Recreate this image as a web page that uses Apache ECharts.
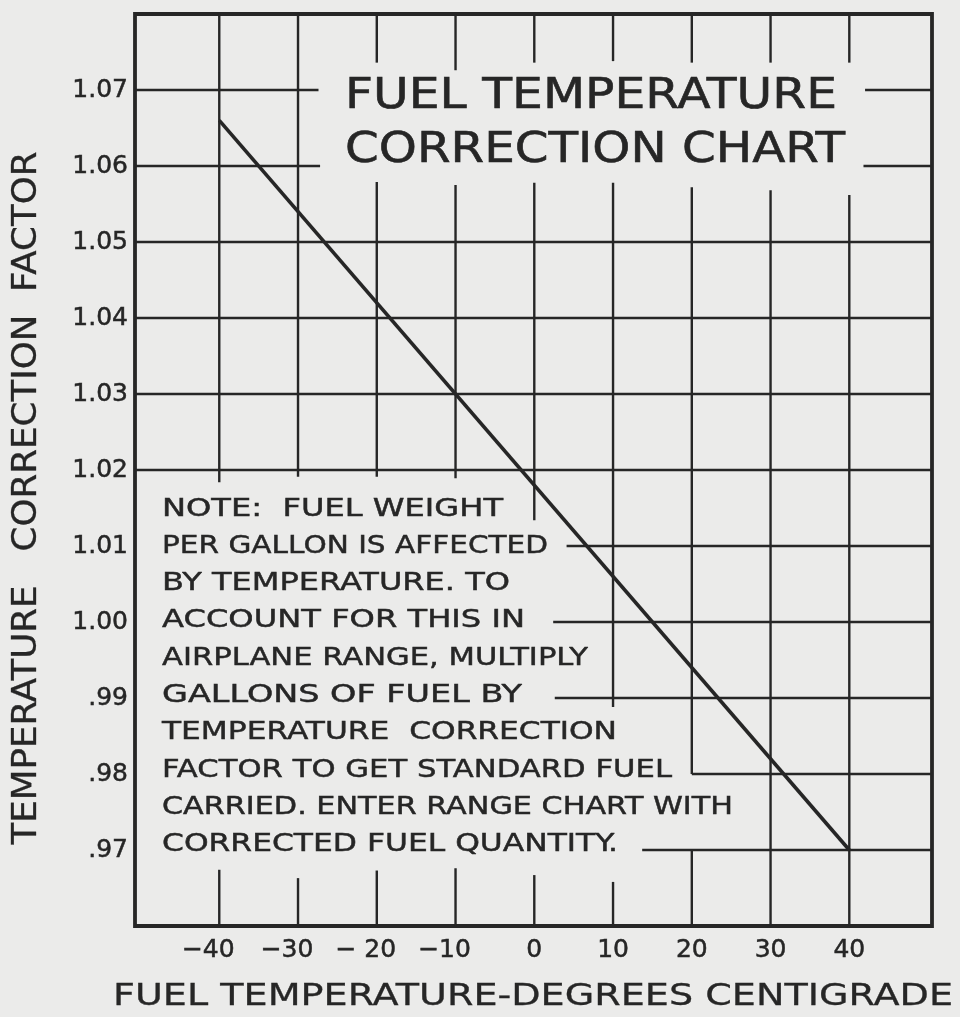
<!DOCTYPE html>
<html>
<head>
<meta charset="utf-8">
<title>Fuel Temperature Correction Chart</title>
<script src="https://cdn.jsdelivr.net/npm/echarts@6/dist/echarts.min.js"></script>
<style>
  html, body { margin: 0; padding: 0; background: #ebebea; }
  #chart { width: 960px; height: 1017px; }
</style>
</head>
<body>
<div id="chart"></div>
<script>
// ---- chart data -----------------------------------------------------------
// Fuel temperature (deg C) tick values and their printed labels
const xTicks = [-40, -30, -20, -10, 0, 10, 20, 30, 40];
const xTickLabels = ['\u221240', '\u221230', '\u2212 20', '\u221210', '0', '10', '20', '30', '40'];

// Correction factor tick values and their printed labels
const yTicks = [0.97, 0.98, 0.99, 1.00, 1.01, 1.02, 1.03, 1.04, 1.05, 1.06, 1.07];
const yTickLabels = ['.97', '.98', '.99', '1.00', '1.01', '1.02', '1.03', '1.04', '1.05', '1.06', '1.07'];

// Correction factor against fuel temperature (straight line)
const correctionTemps = [-40, 40];
const correctionFactors = [1.066, 0.970];

// Plot extent in data units
const X_MIN = -50.7, X_MAX = 50.5;
const Y_MIN = 0.96, Y_MAX = 1.08;

// Ruled grid: vertical rules [temperature, factorFrom, factorTo]
// (rules stop short where the title and the note are lettered)
const verticalRules = [
  [-40, Y_MAX, 1.0184], [-40, 0.9674, Y_MIN],
  [-30, Y_MAX, 1.0191], [-30, 0.9663, Y_MIN],
  [-20, Y_MAX, 1.0736], [-20, 1.0579, 1.0191], [-20, 0.9673, Y_MIN],
  [-10, Y_MAX, 1.0726], [-10, 1.0575, 1.0189], [-10, 0.9676, Y_MIN],
  [0, Y_MAX, 1.0736], [0, 1.0578, 1.0134], [0, 0.9667, Y_MIN],
  [10, Y_MAX, 1.0738], [10, 1.0578, 0.9888], [10, 0.9658, Y_MIN],
  [20, Y_MAX, 1.0736], [20, 1.0572, 0.9800], [20, 0.9700, Y_MIN],
  [30, Y_MAX, 1.0736], [30, 1.0568, Y_MIN],
  [40, Y_MAX, 1.0736], [40, 1.0562, Y_MIN]
];
// Horizontal rules [factor, temperatureFrom, temperatureTo]
const horizontalRules = [
  [1.07, X_MIN, -27.4], [1.07, 42.0, X_MAX],
  [1.06, X_MIN, -27.2], [1.06, 41.8, X_MAX],
  [1.05, X_MIN, X_MAX],
  [1.04, X_MIN, X_MAX],
  [1.03, X_MIN, X_MAX],
  [1.02, X_MIN, X_MAX],
  [1.01, 4.1, X_MAX],
  [1.00, 2.4, X_MAX],
  [0.99, 2.6, X_MAX],
  [0.98, 20.0, X_MAX],
  [0.97, 13.7, X_MAX]
];

// Lettering
const titleLines = ['FUEL TEMPERATURE', 'CORRECTION CHART'];
const noteLines = [
  'NOTE:  FUEL WEIGHT',
  'PER GALLON IS AFFECTED',
  'BY TEMPERATURE. TO',
  'ACCOUNT FOR THIS IN',
  'AIRPLANE RANGE, MULTIPLY',
  'GALLONS OF FUEL BY',
  'TEMPERATURE  CORRECTION',
  'FACTOR TO GET STANDARD FUEL',
  'CARRIED. ENTER RANGE CHART WITH',
  'CORRECTED FUEL QUANTITY.'
];
const xAxisTitle = 'FUEL TEMPERATURE-DEGREES CENTIGRADE';
const yAxisTitle = 'TEMPERATURE   CORRECTION  FACTOR';

// ---- drawing --------------------------------------------------------------
const INK = '#262626';
const FONT = '"DejaVu Sans", "Liberation Sans", sans-serif';

// Hand lettering is widely spaced; stretch each line to its lettered width.
const measureCtx = document.createElement('canvas').getContext('2d');
function stretchTo(text, size, width) {
  measureCtx.font = size + 'px ' + FONT;
  return width / measureCtx.measureText(text).width;
}

// Pen lettering is a little heavier than the regular face: add a thin outline.
function letteredText(text, size, x, y, width, weight, opts) {
  opts = opts || {};
  return {
    type: 'text',
    x: x,
    y: y,
    rotation: opts.rotation || 0,
    scaleX: stretchTo(text, size, width),
    silent: true,
    z: 10,
    style: {
      text: text,
      font: size + 'px ' + FONT,
      fill: INK,
      stroke: INK,
      lineWidth: weight,
      align: opts.align || 'left',
      verticalAlign: 'middle'
    }
  };
}

const titleWidths = [492, 500];
const titleCenters = [97, 151];
const noteWidths = [341, 386, 348, 363, 426, 360, 455, 510, 571, 456];

const graphics = [];
titleLines.forEach((t, i) => graphics.push(letteredText(t, 43, 345, titleCenters[i], titleWidths[i], 0.6)));
noteLines.forEach((t, i) => graphics.push(letteredText(t, 25, 162, 509 + i * 37.3, noteWidths[i], 0.45)));
graphics.push(letteredText(xAxisTitle, 30, 533, 997, 840, 0.3, { align: 'center' }));
graphics.push(letteredText(yAxisTitle, 34, 27, 498, 693, 0.3, { align: 'center', rotation: Math.PI / 2 }));

const ruleRows = verticalRules.map(r => [r[0], r[1], r[0], r[2]])
  .concat(horizontalRules.map(r => [r[1], r[0], r[2], r[0]]));

const tickLabelStyle = {
  color: INK,
  fontFamily: FONT,
  fontSize: 25,
  textBorderColor: INK,
  textBorderWidth: 0.5
};

const chart = echarts.init(document.getElementById('chart'), null, { renderer: 'canvas' });
chart.setOption({
  backgroundColor: '#ebebea',
  animation: false,
  grid: {
    left: 135, right: 28, top: 14, bottom: 91,
    show: true,
    borderColor: INK,
    borderWidth: 3.8,
    backgroundColor: 'transparent'
  },
  xAxis: {
    type: 'value',
    min: X_MIN,
    max: X_MAX,
    axisLine: { show: false },
    axisTick: { show: false },
    splitLine: { show: false },
    axisLabel: Object.assign({}, tickLabelStyle, {
      customValues: xTicks,
      margin: 12,
      formatter: v => {
        const i = xTicks.findIndex(t => Math.abs(t - v) < 1e-6);
        const s = i < 0 ? '' : xTickLabels[i];
        return v < 0 ? '{neg|' + s + '}' : s;
      },
      rich: {
        neg: Object.assign({}, tickLabelStyle, { padding: [0, 22, 0, 0] })
      }
    })
  },
  yAxis: {
    type: 'value',
    min: Y_MIN,
    max: Y_MAX,
    axisLine: { show: false },
    axisTick: { show: false },
    splitLine: { show: false },
    axisLabel: Object.assign({}, tickLabelStyle, {
      customValues: yTicks,
      margin: 7,
      formatter: v => {
        const i = yTicks.findIndex(t => Math.abs(t - v) < 1e-6);
        return i < 0 ? '' : yTickLabels[i];
      }
    })
  },
  graphic: graphics,
  series: [
    {
      // ruled grid, drawn in data units through the axes
      type: 'custom',
      silent: true,
      clip: true,
      z: 1,
      data: ruleRows,
      encode: { x: [0, 2], y: [1, 3] },
      renderItem: (params, api) => {
        const p1 = api.coord([api.value(0), api.value(1)]);
        const p2 = api.coord([api.value(2), api.value(3)]);
        return {
          type: 'line',
          shape: { x1: p1[0], y1: p1[1], x2: p2[0], y2: p2[1] },
          style: { stroke: INK, lineWidth: 2.4, lineCap: 'butt' }
        };
      }
    },
    {
      type: 'line',
      z: 3,
      silent: true,
      symbol: 'none',
      data: correctionTemps.map((t, i) => [t, correctionFactors[i]]),
      lineStyle: { color: INK, width: 3.6 }
    }
  ]
});
</script>
</body>
</html>
